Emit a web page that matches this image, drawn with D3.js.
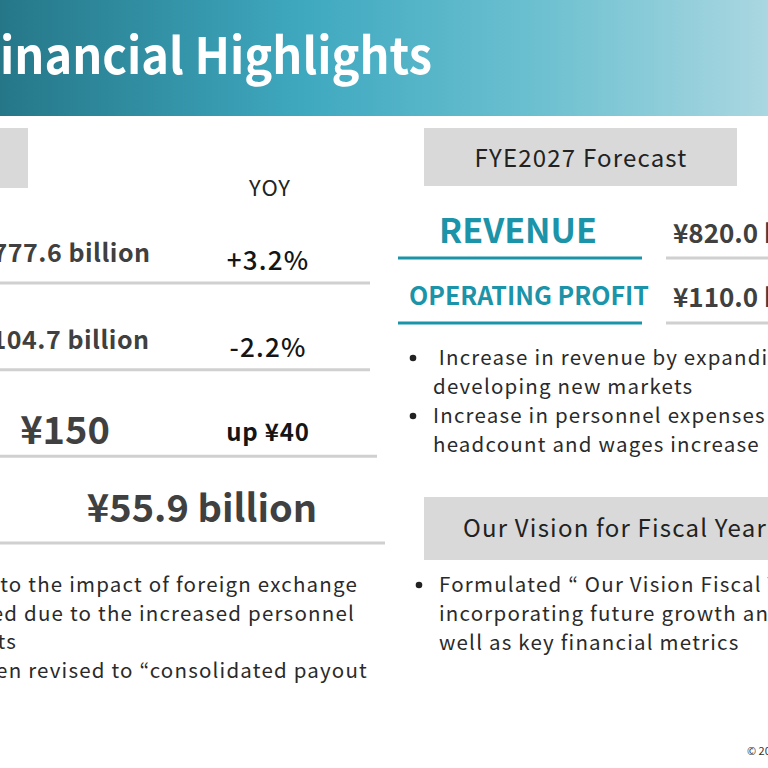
<!DOCTYPE html>
<html>
<head>
<meta charset="utf-8">
<script src="https://cdn.jsdelivr.net/npm/d3@7"></script>
<style>
  body { margin: 0; background: #fff; }
  svg { display: block; font-family: "Noto Sans CJK JP", "Noto Sans", sans-serif; }
</style>
</head>
<body>
<div id="chart"></div>
<script>
// ---- data ----
const title = 'Financial Highlights'
const leftValues = ['¥777.6 billion', '¥104.7 billion', '¥150', '¥55.9 billion']
const yoyValues = ['+3.2%', '-2.2%', 'up ¥40', '']
const yoyHeader = 'YOY'
const leftNotes = [
  '• Revenue increased due to the impact of foreign exchange',
  '• Operating profit decreased due to the increased personnel',
  'costs',
  '• Dividend policy has been revised to “consolidated payout'
]
const forecastTitle = 'FYE2027 Forecast'
const forecastLabels = ['REVENUE', 'OPERATING PROFIT']
const forecastValues = ['¥820.0 billion', '¥110.0 billion']
const forecastNotes = [
  [' Increase in revenue by expanding existing businesses and', 'developing new markets'],
  ['Increase in personnel expenses due to increased', 'headcount and wages increase']
]
const visionTitle = 'Our Vision for Fiscal Year 2030'
const visionNotes = [['Formulated “ Our Vision Fiscal Year 2030”,', 'incorporating future growth and strategies, as', 'well as key financial metrics']]
const copyright = '© 2025'

const W = 768, H = 768
const teal = '#1b93a8'
const ink = '#404040'
const bodySize = 20.5, bodySpacing = 1.2

const svg = d3.select('#chart').append('svg')
  .attr('width', W).attr('height', H)

// ---- header band ----
const grad = svg.append('defs').append('linearGradient')
  .attr('id', 'hdr').attr('x1', 0).attr('x2', 1).attr('y1', 0).attr('y2', 0)
grad.selectAll('stop')
  .data([[0, '#257788'], [0.4, '#3fa9c0'], [0.7, '#6cc0d0'], [1, '#aad7e1']])
  .enter().append('stop')
  .attr('offset', d => d[0]).attr('stop-color', d => d[1])

svg.append('rect').attr('x', 0).attr('y', 0).attr('width', W).attr('height', 116)
  .attr('fill', 'url(#hdr)')

// the reference title face is narrower, squeeze so "inancial Highlights" spans 0..432
const probe = svg.append('text').attr('font-size', 50).attr('font-weight', 700).text(title.slice(1))
const visW = probe.node().getComputedTextLength()
probe.remove()
svg.append('text').attr('transform', `translate(432,74) scale(${432 / visW},1)`)
  .attr('text-anchor', 'end')
  .attr('fill', '#fff').attr('font-size', 50).attr('font-weight', 700)
  .text(title)

// ---- left column: results table ----
svg.append('rect').attr('x', -10).attr('y', 128).attr('width', 38).attr('height', 60).attr('fill', '#d9d9d9')
svg.append('text').attr('x', 270).attr('y', 196).attr('text-anchor', 'middle')
  .attr('font-size', 22).attr('letter-spacing', 1).attr('fill', '#222').text(yoyHeader)

const rowY = d3.scaleLinear().domain([0, leftValues.length - 1]).range([283, 543])
const lineEnd = [370, 370, 377, 385]
const valSize = [25, 25, 38, 38]
const valX = [64, 63, 65, 202]

const rows = svg.append('g').selectAll('g').data(leftValues).enter().append('g')
rows.append('line')
  .attr('x1', 0).attr('x2', (d, i) => lineEnd[i])
  .attr('y1', (d, i) => rowY(i)).attr('y2', (d, i) => rowY(i))
  .attr('stroke', '#d0d0d0').attr('stroke-width', 3)
rows.append('text')
  .attr('x', (d, i) => valX[i])
  .attr('y', (d, i) => rowY(i) - (i === 2 ? 12 : 21))
  .attr('text-anchor', 'middle').attr('font-weight', 700)
  .attr('letter-spacing', (d, i) => i < 2 ? 0.5 : 0)
  .attr('font-size', (d, i) => valSize[i]).attr('fill', ink)
  .text(d => d)
rows.append('text')
  .attr('x', 268)
  .attr('y', (d, i) => rowY(i) - (i === 2 ? 15 : 13))
  .attr('text-anchor', 'middle').attr('font-weight', (d, i) => i === 2 ? 700 : 500)
  .attr('letter-spacing', (d, i) => i === 2 ? 0.8 : 1.2)
  .attr('font-size', (d, i) => i === 2 ? 24 : 26).attr('fill', '#151515')
  .text((d, i) => yoyValues[i])

const noteY = d3.scaleLinear().domain([0, 3]).range([592, 678])
const noteEnd = [358, 355, 17, 368]
svg.append('g').selectAll('text').data(leftNotes).enter().append('text')
  .attr('x', (d, i) => noteEnd[i]).attr('y', (d, i) => noteY(i))
  .attr('text-anchor', 'end').attr('font-size', bodySize).attr('fill', '#2a2a2a')
  .attr('letter-spacing', bodySpacing)
  .text(d => d)

// ---- right column: forecast ----
svg.append('rect').attr('x', 424).attr('y', 128).attr('width', 313).attr('height', 58).attr('fill', '#d9d9d9')
svg.append('text').attr('x', 581).attr('y', 167).attr('text-anchor', 'middle')
  .attr('font-size', 24).attr('letter-spacing', 1.2).attr('fill', '#222').text(forecastTitle)

const fcY = d3.scaleLinear().domain([0, 1]).range([258, 323])
const fc = svg.append('g').selectAll('g').data(forecastLabels).enter().append('g')
fc.append('line').attr('x1', 398).attr('x2', 642)
  .attr('y1', (d, i) => fcY(i)).attr('y2', (d, i) => fcY(i))
  .attr('stroke', teal).attr('stroke-width', 3)
fc.append('line').attr('x1', 666).attr('x2', W)
  .attr('y1', (d, i) => fcY(i)).attr('y2', (d, i) => fcY(i))
  .attr('stroke', '#d0d0d0').attr('stroke-width', 3)
fc.append('text').attr('x', (d, i) => i === 0 ? 518 : 529)
  .attr('y', (d, i) => fcY(i) - (i === 0 ? 15 : 18))
  .attr('text-anchor', 'middle').attr('font-weight', 700)
  .attr('font-size', (d, i) => i === 0 ? 34 : 25).attr('fill', teal)
  .text(d => d)
fc.append('text').attr('x', 673)
  .attr('y', (d, i) => fcY(i) - (i === 0 ? 15 : 16))
  .attr('font-weight', 700).attr('font-size', 26).attr('fill', ink)
  .text((d, i) => forecastValues[i])

function bullets(g, list, x0, y0, step) {
  let k = 0
  list.forEach(lines => {
    g.append('circle').attr('cx', x0 - 20).attr('cy', y0 + k * step - 7)
      .attr('r', 3.3).attr('fill', '#222')
    lines.forEach(t => {
      g.append('text').attr('x', x0).attr('y', y0 + k * step)
        .attr('font-size', bodySize).attr('fill', '#2a2a2a').attr('letter-spacing', bodySpacing)
        .style('white-space', 'pre')
        .text(t)
      k++
    })
  })
}
bullets(svg.append('g'), forecastNotes, 433, 365, 29)

// ---- vision ----
svg.append('rect').attr('x', 424).attr('y', 497).attr('width', 360).attr('height', 63).attr('fill', '#d9d9d9')
svg.append('text').attr('x', 463).attr('y', 537)
  .attr('font-size', 24).attr('fill', '#222').attr('letter-spacing', 1.2).text(visionTitle)
bullets(svg.append('g'), visionNotes, 439, 592, 29)

svg.append('text').attr('x', 747).attr('y', 755)
  .attr('font-size', 11).attr('fill', '#333').text(copyright)
</script>
</body>
</html>
